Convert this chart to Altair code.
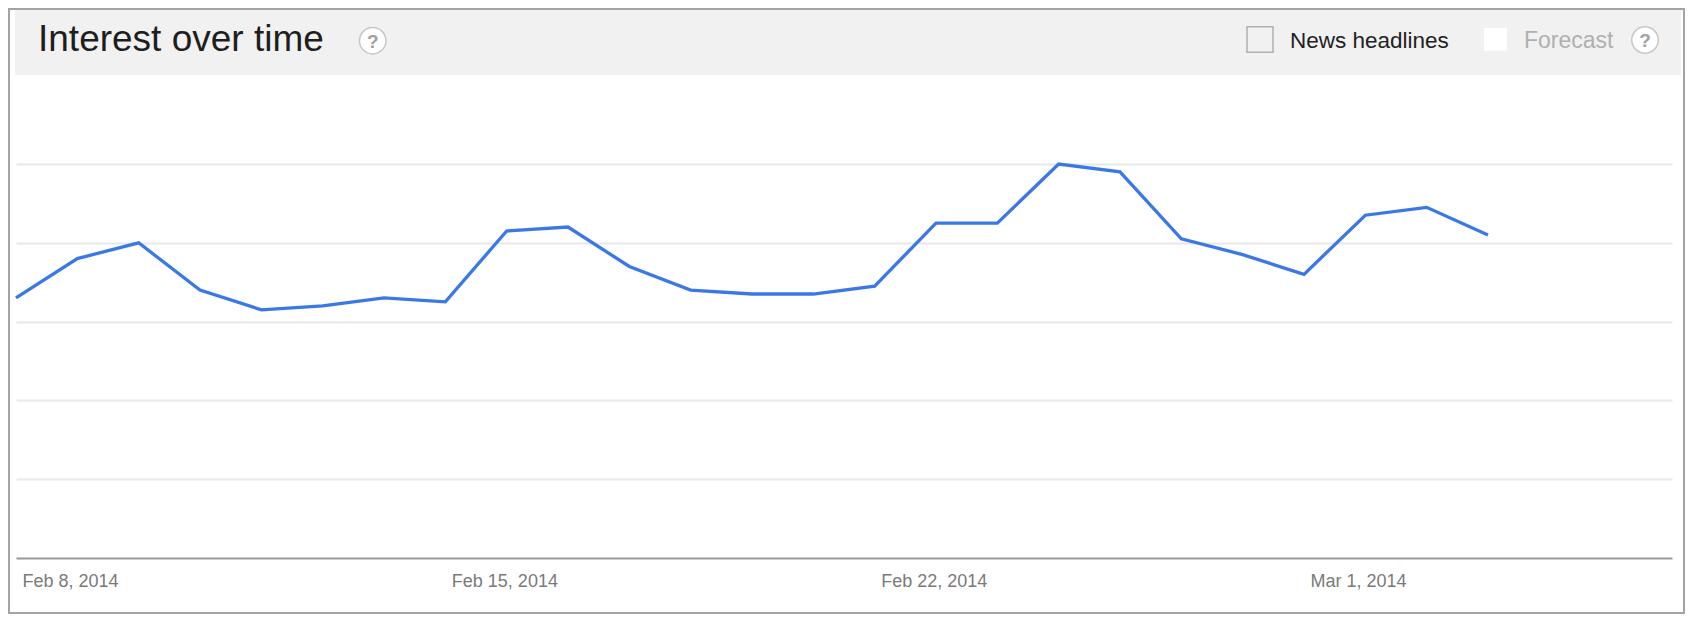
import altair as alt
import pandas as pd

# ---- data ----
dates = [
    "2014-02-08", "2014-02-09", "2014-02-10", "2014-02-11", "2014-02-12",
    "2014-02-13", "2014-02-14", "2014-02-15", "2014-02-16", "2014-02-17",
    "2014-02-18", "2014-02-19", "2014-02-20", "2014-02-21", "2014-02-22",
    "2014-02-23", "2014-02-24", "2014-02-25", "2014-02-26", "2014-02-27",
    "2014-02-28", "2014-03-01", "2014-03-02", "2014-03-03", "2014-03-04",
]
values = [66, 76, 80, 68, 63, 64, 66, 65, 83, 84, 74, 68, 67, 67, 69,
          85, 85, 100, 98, 81, 77, 72, 87, 89, 82]
tick_dates = ["2014-02-08", "2014-02-15", "2014-02-22", "2014-03-01"]
x_domain = ["2014-02-08", "2014-03-07"]
grid_values = [20, 40, 60, 80, 100]
title_text = "Interest over time"
news_label = "News headlines"
forecast_label = "Forecast"

FONT = "Liberation Sans"


def dt(s):
    y, m, d = (int(p) for p in s.split("-"))
    return alt.DateTime(year=y, month=m, date=d, utc=True)


df = pd.DataFrame({"date": dates, "value": values})

line = alt.Chart(df).mark_line(color="#3b78e7", strokeWidth=3.3).encode(
    x=alt.X(
        "date:T",
        scale=alt.Scale(type="utc", domain=[dt(s) for s in x_domain]),
        axis=alt.Axis(
            values=[dt(s) for s in tick_dates],
            format="%b %-d, %Y",
            title=None,
            grid=False,
            ticks=False,
            tickSize=0,
            domainColor="#9a9a9a",
            domainWidth=2,
            labelAlign="left",
            labelBaseline="alphabetic",
            labelOffset=6,
            labelPadding=28.5,
            labelFlush=False,
            labelFont=FONT,
            labelFontSize=18,
            labelColor="#7a7a7a",
        ),
    ),
    y=alt.Y(
        "value:Q",
        scale=alt.Scale(domain=[0, 100], range=[550, 156], nice=False, zero=True),
        axis=alt.Axis(
            values=grid_values,
            grid=True,
            gridColor="#e8e8e8",
            gridWidth=2,
            domain=False,
            ticks=False,
            labels=False,
            title=None,
        ),
    ),
)


def one(text):
    return pd.DataFrame({"label": [text]})


border = alt.Chart(one("")).mark_rect(
    fillOpacity=0, stroke="#a3a3a3", strokeWidth=2
).encode(x=alt.value(-7), x2=alt.value(1668), y=alt.value(1), y2=alt.value(605))

band = alt.Chart(one("")).mark_rect(color="#f1f1f1").encode(
    x=alt.value(-1), x2=alt.value(1665), y=alt.value(2), y2=alt.value(67)
)

title = alt.Chart(one(title_text)).mark_text(
    align="left", baseline="alphabetic", font=FONT, fontSize=37, color="#1e1e1e"
).encode(x=alt.value(22), y=alt.value(42.7), text="label:N")

help1 = alt.Chart(one("?")).mark_circle(
    size=700, color="white", opacity=1, stroke="#c8c8c8", strokeWidth=1.5
).encode(x=alt.value(356.7), y=alt.value(32.7))
help1_q = alt.Chart(one("?")).mark_text(
    align="center", baseline="middle", font=FONT, fontSize=19, fontWeight="bold",
    color="#a0a0a0"
).encode(x=alt.value(356.7), y=alt.value(33.5), text="label:N")

check1 = alt.Chart(one("")).mark_rect(
    fillOpacity=0, stroke="#b0b0b0", strokeWidth=1.5
).encode(x=alt.value(1231), x2=alt.value(1257), y=alt.value(18.7), y2=alt.value(44.3))

news = alt.Chart(one(news_label)).mark_text(
    align="left", baseline="alphabetic", font=FONT, fontSize=22.5, color="#222222"
).encode(x=alt.value(1274), y=alt.value(40.3), text="label:N")

check2 = alt.Chart(one("")).mark_rect(color="white").encode(
    x=alt.value(1468), x2=alt.value(1491), y=alt.value(20), y2=alt.value(42.7)
)

forecast = alt.Chart(one(forecast_label)).mark_text(
    align="left", baseline="alphabetic", font=FONT, fontSize=23, color="#b0b0b0"
).encode(x=alt.value(1508), y=alt.value(40.3), text="label:N")

help2 = alt.Chart(one("?")).mark_circle(
    size=700, color="white", opacity=1, stroke="#c8c8c8", strokeWidth=1.5
).encode(x=alt.value(1629), y=alt.value(32))
help2_q = alt.Chart(one("?")).mark_text(
    align="center", baseline="middle", font=FONT, fontSize=19, fontWeight="bold",
    color="#a0a0a0"
).encode(x=alt.value(1629), y=alt.value(33), text="label:N")

chart = alt.layer(
    border, band, title, help1, help1_q, check1, news, check2, forecast,
    help2, help2_q, line,
).properties(
    width=1656,
    height=550,
    padding={"left": 8, "right": 13, "top": 0, "bottom": 56},
    autosize=alt.AutoSizeParams(type="none"),
    background="white",
).configure_view(stroke=None)

chart.save("out.html", embed_options={"renderer": "svg", "actions": False})
